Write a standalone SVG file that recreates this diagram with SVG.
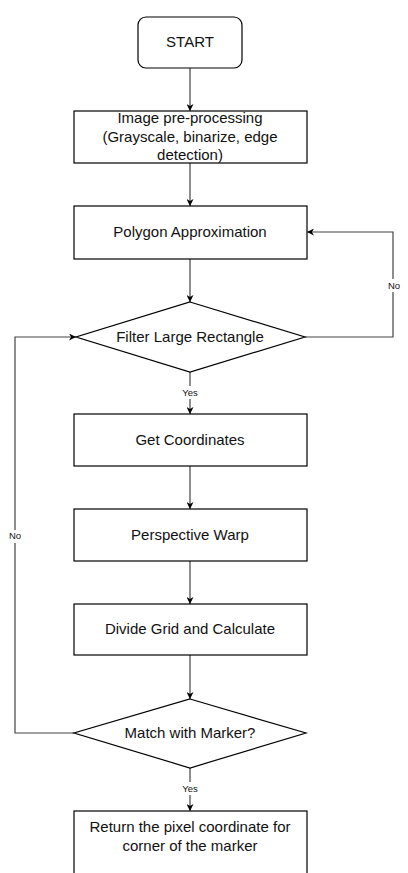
<svg xmlns="http://www.w3.org/2000/svg" width="408" height="873" viewBox="0 0 408 873">
<defs>
<marker id="ah" viewBox="0 0 10 10" refX="10" refY="5" markerWidth="7" markerHeight="7" orient="auto" markerUnits="userSpaceOnUse">
<path d="M0,0 L10,5 L0,10 L3,5 z" fill="#000"/>
</marker>
<style>
.box{fill:#fff;stroke:#000;stroke-width:1.2}
.t{font-family:"Liberation Sans",Arial,sans-serif;font-size:15px;fill:#111;text-anchor:middle}
.s{font-family:"Liberation Sans",Arial,sans-serif;font-size:9.5px;fill:#111;text-anchor:middle}
.c{fill:none;stroke:#444;stroke-width:1.2;marker-end:url(#ah)}
.cl{fill:#fff;}
</style>
</defs>
<rect width="408" height="873" fill="#fff"/>
<g id="connectors">
<path class="c" d="M190,68 V111"/>
<path class="c" d="M190,163 V206"/>
<path class="c" d="M190,259 V302"/>
<path class="c" d="M305,337 H393 V232 H307"/>
<path class="c" d="M190,372 V414"/>
<path class="c" d="M190,466 V509"/>
<path class="c" d="M190,561 V604"/>
<path class="c" d="M190,655 V699"/>
<path class="c" d="M74,733 H15 V337 H76"/>
<path class="c" d="M190,768 V811"/>
<rect class="cl" x="378" y="279" width="30" height="13"/>
<text class="s" x="394" y="289">No</text>
<rect class="cl" x="6" y="530" width="20" height="13"/>
<text class="s" x="15" y="539">No</text>
<rect class="cl" x="178" y="386" width="24" height="13"/>
<text class="s" x="190" y="396">Yes</text>
<rect class="cl" x="178" y="782" width="24" height="13"/>
<text class="s" x="190" y="792">Yes</text>
</g>
<g id="start">
<rect class="box" x="138" y="17" width="104" height="51" rx="8"/>
<text class="t" x="190" y="47">START</text>
</g>
<g id="preprocess">
<rect class="box" x="74" y="111" width="233" height="52"/>
<text class="t" x="190" y="123">Image pre-processing</text>
<text class="t" x="190" y="142">(Grayscale, binarize, edge</text>
<text class="t" x="190" y="160">detection)</text>
</g>
<g id="polygon">
<rect class="box" x="74" y="206" width="233" height="53"/>
<text class="t" x="190" y="237">Polygon Approximation</text>
</g>
<g id="filter">
<polygon class="box" points="190,302 305,337 190,372 76,337"/>
<text class="t" x="190" y="342">Filter Large Rectangle</text>
</g>
<g id="coords">
<rect class="box" x="74" y="414" width="233" height="52"/>
<text class="t" x="190" y="445">Get Coordinates</text>
</g>
<g id="warp">
<rect class="box" x="74" y="509" width="233" height="52"/>
<text class="t" x="190" y="540">Perspective Warp</text>
</g>
<g id="grid">
<rect class="box" x="74" y="604" width="233" height="51"/>
<text class="t" x="190" y="634">Divide Grid and Calculate</text>
</g>
<g id="match">
<polygon class="box" points="190,699 306,733 190,768 74,733"/>
<text class="t" x="190" y="738">Match with Marker?</text>
</g>
<g id="return">
<rect class="box" x="74" y="811" width="233" height="80"/>
<text class="t" x="190" y="832">Return the pixel coordinate for</text>
<text class="t" x="190" y="851">corner of the marker</text>
</g>
</svg>
